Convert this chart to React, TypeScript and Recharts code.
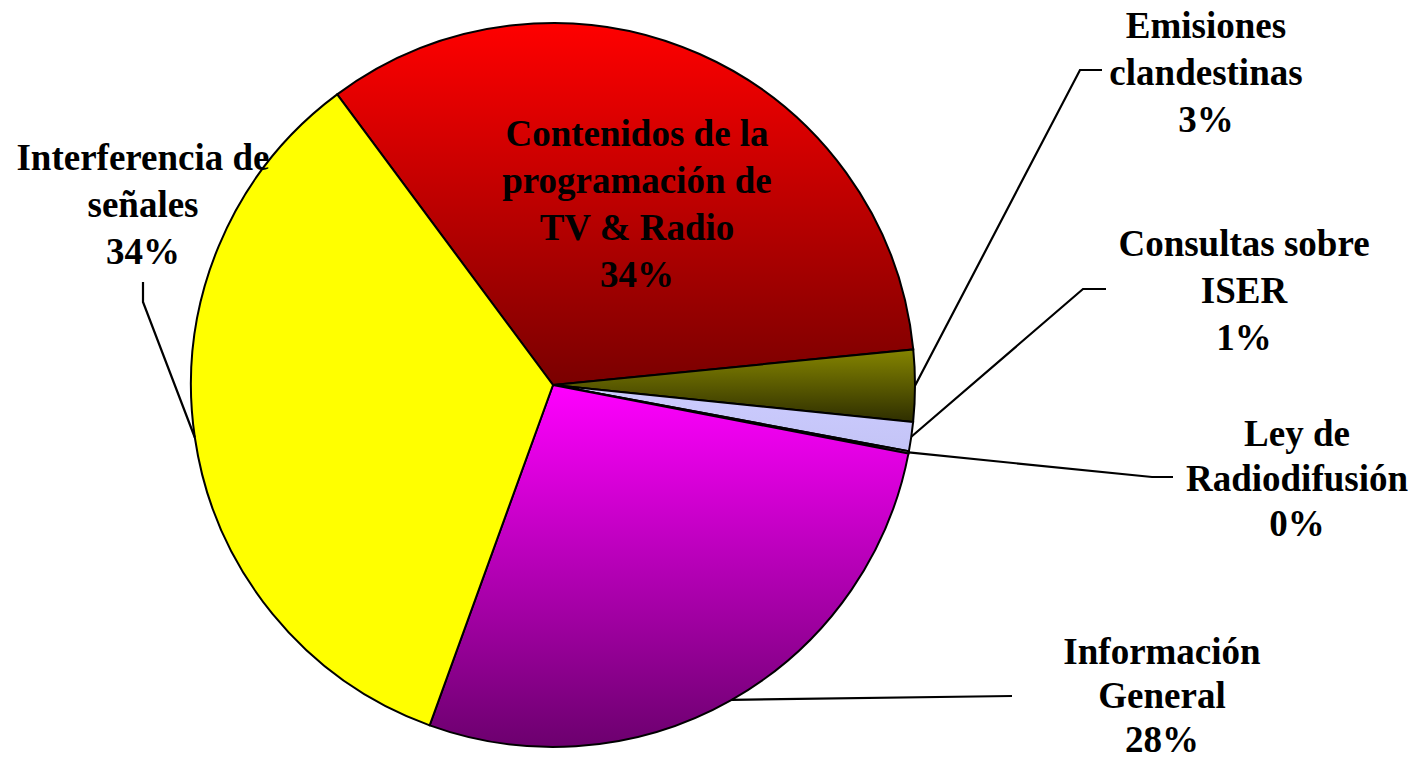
import React from "react";
import { PieChart, Pie, Cell } from "recharts";

// categories in clockwise order, starting at the top-left boundary
const categories = [
  "Contenidos de la\nprogramación de\nTV & Radio",
  "Emisiones\nclandestinas",
  "Consultas sobre\nISER",
  "Ley de\nRadiodifusión",
  "Información\nGeneral",
  "Interferencia de\nseñales",
];
const shares = [33.6, 3.2, 1.3, 0.1, 27.5, 34.3];

// gradient stops per slice: [top, bottom]
const sliceColors = [
  ["#ff0000", "#7a0000"],
  ["#858500", "#2e2e00"],
  ["#ccccff", "#c4c4f6"],
  ["#ccccff", "#ccccff"],
  ["#ff00ff", "#6c006e"],
  ["#ffff00", "#ffff00"],
];

// label placement: text centre x, first line y, line height, leader elbow points
const labelLayout = [
  { x: 637, y: 133, lh: 47, elbow: null },
  { x: 1206, y: 25, lh: 47, elbow: [[1080, 70], [1102, 70]] },
  { x: 1244, y: 243, lh: 47, elbow: [[1083, 289], [1106, 289]] },
  { x: 1297, y: 433, lh: 45, elbow: [[1152, 477], [1173, 477]] },
  { x: 1162, y: 651, lh: 44, elbow: [[1012, 696]] },
  { x: 143, y: 157, lh: 47, elbow: [[143, 302], [143, 282]] },
];

const data = categories.map((name, i) => ({ name, value: shares[i] }));

const RAD = Math.PI / 180;

const renderLabel = (props: any) => {
  const { cx, cy, midAngle, outerRadius, index, percent } = props;
  const lay = labelLayout[index];
  const lines = [...categories[index].split("\n"), `${Math.round(percent * 100)}%`];
  const sx = cx + outerRadius * Math.cos(-midAngle * RAD);
  const sy = cy + outerRadius * Math.sin(-midAngle * RAD);
  return (
    <g key={`lbl-${index}`}>
      {lay.elbow && (
        <polyline
          points={[[sx, sy], ...lay.elbow].map((p) => p.join(",")).join(" ")}
          fill="none"
          stroke="#000"
          strokeWidth={2.2}
        />
      )}
      {lines.map((t, j) => (
        <text
          key={j}
          x={lay.x}
          y={lay.y + j * lay.lh}
          textAnchor="middle"
          dominantBaseline="central"
          fontFamily="Liberation Serif"
          fontWeight="bold"
          fontSize={37}
          fill="#000"
        >
          {t}
        </text>
      ))}
    </g>
  );
};

const App = () => {
  return (
    <div style={{ width: 1417, height: 760, background: "#fff" }}>
      <style>{`body{margin:0}`}</style>
      <PieChart width={1417} height={760} margin={{ top: 0, right: 0, bottom: 0, left: 0 }}>
        <defs>
          {sliceColors.map((c, i) => (
            <linearGradient key={i} id={`slice${i}`} x1="0" y1="0" x2="0" y2="1">
              <stop offset="0%" stopColor={c[0]} />
              <stop offset="100%" stopColor={c[1]} />
            </linearGradient>
          ))}
        </defs>
        <Pie
          data={data}
          dataKey="value"
          nameKey="name"
          cx={553}
          cy={385}
          outerRadius={362}
          startAngle={126.6}
          endAngle={-233.4}
          stroke="#000"
          strokeWidth={2}
          label={renderLabel}
          labelLine={false}
          isAnimationActive={false}
        >
          {data.map((d, i) => (
            <Cell key={d.name} fill={`url(#slice${i})`} />
          ))}
        </Pie>
      </PieChart>
    </div>
  );
};

export default App;
